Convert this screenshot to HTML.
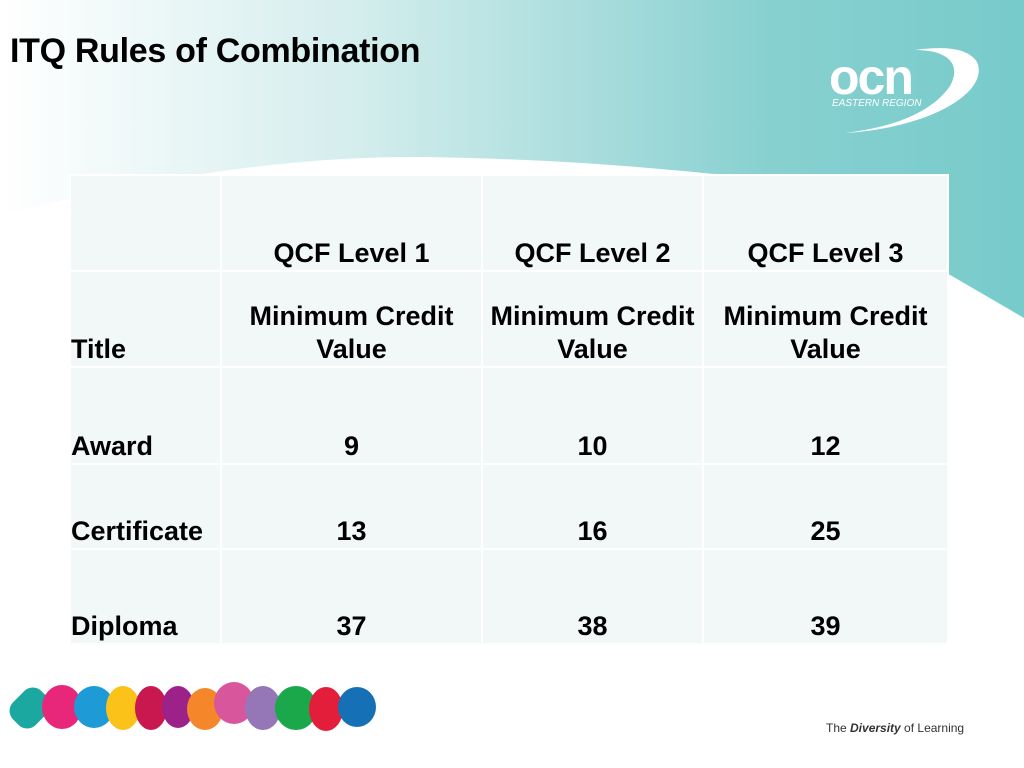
<!DOCTYPE html>
<html><head><style>
body{margin:0;width:1024px;height:768px;position:relative;background:#fff;font-family:"Liberation Sans",sans-serif;overflow:hidden}
svg.bg{position:absolute;left:0;top:0}
h1{position:absolute;left:10px;top:32px;margin:0;font-size:34px;font-weight:bold;color:#000;letter-spacing:-0.3px}
table{position:absolute;left:69px;top:174px;border-collapse:collapse;font-weight:bold;font-size:27px;color:#000}
td{background:#f2f8f8;border:2px solid #fff;vertical-align:bottom;text-align:center;padding:0 0 0 0;line-height:33px}
td.l{text-align:left;padding-left:0}
</style></head><body>
<svg class="bg" width="1024" height="768">
<defs>
<linearGradient id="g" x1="0" x2="1" y1="0" y2="0">
<stop offset="0" stop-color="#ffffff"/>
<stop offset="0.35" stop-color="#d4eded"/>
<stop offset="0.75" stop-color="#88d0d0"/>
<stop offset="1" stop-color="#78cbcb"/>
</linearGradient>
</defs>
<path d="M0,0 H1024 V318 L945,272 L945,200 C800,185 650,160 420,157 C300,156 160,175 0,215 Z" fill="url(#g)"/>
<g fill="#fff">
<text x="829" y="94" font-family="Liberation Sans" font-weight="bold" font-size="50" letter-spacing="-2">ocn</text>
<text x="832" y="106" font-family="Liberation Sans" font-style="italic" font-size="10">EASTERN REGION</text>
<path d="M845,133 C930,128 990,92 977,62 C968,48 945,46 915,50 C948,50 962,64 950,86 C932,112 895,127 845,133 Z"/>
</g>
<g>
<rect x="14" y="688" width="32" height="40" rx="12" fill="#1aa8a0" transform="rotate(45 30 708)"/>
<ellipse cx="62" cy="707" rx="20" ry="22" fill="#e8277a"/>
<ellipse cx="94" cy="707" rx="20" ry="21" fill="#1e9ad6"/>
<ellipse cx="123" cy="708" rx="17" ry="22" fill="#fbc21a"/>
<ellipse cx="151" cy="708" rx="16" ry="22" fill="#c9184f"/>
<ellipse cx="178" cy="707" rx="16" ry="21" fill="#9c2189"/>
<ellipse cx="205" cy="709" rx="18" ry="21" fill="#f6862a"/>
<ellipse cx="234" cy="703" rx="20" ry="21" fill="#d8569c"/>
<ellipse cx="263" cy="708" rx="18" ry="22" fill="#9576b6"/>
<ellipse cx="296" cy="708" rx="21" ry="22" fill="#1aa84a"/>
<ellipse cx="326" cy="709" rx="17" ry="22" fill="#e31e3a"/>
<ellipse cx="357" cy="707" rx="19" ry="20" fill="#1670b6"/>
</g>
<text x="826" y="732" font-family="Liberation Sans" font-size="12" fill="#333">The <tspan font-weight="bold" font-style="italic">Diversity</tspan> of Learning</text>
</svg>
<h1>ITQ Rules of Combination</h1>
<table>
<tr style="height:96px"><td class="l" style="width:149px"></td><td style="width:259px">QCF Level 1</td><td style="width:219px">QCF Level 2</td><td style="width:243px">QCF Level 3</td></tr>
<tr style="height:96px"><td class="l">Title</td><td>Minimum Credit<br>Value</td><td>Minimum Credit<br>Value</td><td>Minimum Credit<br>Value</td></tr>
<tr style="height:97px"><td class="l">Award</td><td>9</td><td>10</td><td>12</td></tr>
<tr style="height:85px"><td class="l">Certificate</td><td>13</td><td>16</td><td>25</td></tr>
<tr style="height:95px"><td class="l">Diploma</td><td>37</td><td>38</td><td>39</td></tr>
</table>
</body></html>
